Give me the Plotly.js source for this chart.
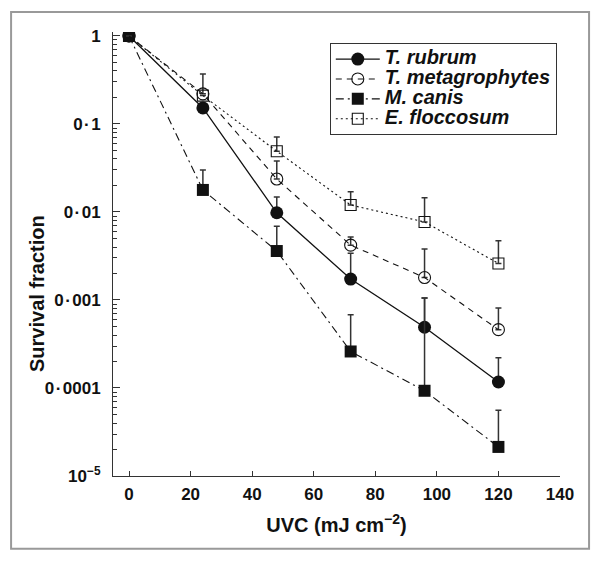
<!DOCTYPE html>
<html>
<head>
<meta charset="utf-8">
<script src="https://cdn.plot.ly/plotly-3.0.1.min.js"></script>
<style>
html,body{margin:0;padding:0;background:#fff;}
#chart{width:600px;height:561px;}
.legendtext{font-size:20px !important;}
</style>
</head>
<body>
<div id="chart"></div>
<script>
// Data
const doses = [0, 24, 48, 72, 96, 120];

const rubrumY     = [1, 0.152, 0.0098, 0.00173, 0.00049, 0.000117];
const rubrumTop   = [null, null, 0.0148, 0.0034, 0.00105, 0.00022];

const metaY       = [1, 0.22, 0.0237, 0.0042, 0.0018, 0.00046];
const metaTop     = [null, 0.37, 0.038, 0.0052, 0.0038, 0.00081];

const canisY      = [1, 0.0178, 0.0036, 0.00026, 0.000093, 0.0000214];
const canisTop    = [null, 0.030, 0.0069, 0.00068, 0.00105, 0.000056];

const floccY      = [1, 0.21, 0.049, 0.012, 0.0077, 0.0026];
const floccTop    = [null, null, 0.071, 0.017, 0.0145, 0.0047];

const seriesNames = ["T. rubrum", "T. metagrophytes", "M. canis", "E. floccosum"];

const yTickVals = [1, 0.1, 0.01, 0.001, 0.0001, 0.00001];
const yTickText = ["1", "0\u200a·\u200a1", "0\u200a·\u200a01", "0\u200a·\u200a001", "0\u200a·\u200a0001", "10<sup>−5</sup>"];
const xTickVals = [0, 20, 40, 60, 80, 100, 120, 140];

function plusErr(y, top) {
  return y.map((v, i) => (top[i] == null ? 0 : top[i] - v));
}

const ink = "#111";
const errStyle = (y, top) => ({
  type: "data", symmetric: false,
  array: plusErr(y, top), arrayminus: y.map(() => 0),
  color: "#333", thickness: 1.5, width: 3
});

const traces = [
  {
    x: doses, y: rubrumY, name: seriesNames[0], type: "scatter", mode: "lines+markers",
    line: {color: ink, width: 1.3, dash: "solid"},
    marker: {symbol: "circle", size: 13, color: ink},
    error_y: errStyle(rubrumY, rubrumTop)
  },
  {
    x: doses, y: metaY, name: seriesNames[1], type: "scatter", mode: "lines+markers",
    line: {color: ink, width: 1.1, dash: "6px,5px"},
    marker: {symbol: "circle-open", size: 12, color: ink, line: {color: ink, width: 1.1}},
    error_y: errStyle(metaY, metaTop)
  },
  {
    x: doses, y: canisY, name: seriesNames[2], type: "scatter", mode: "lines+markers",
    line: {color: ink, width: 1.1, dash: "8px,4px,2px,4px"},
    marker: {symbol: "square", size: 12, color: ink},
    error_y: errStyle(canisY, canisTop)
  },
  {
    x: doses, y: floccY, name: seriesNames[3], type: "scatter", mode: "lines+markers",
    line: {color: ink, width: 1.1, dash: "2px,3px"},
    marker: {symbol: "square-open", size: 11, color: ink, line: {color: ink, width: 1.1}},
    error_y: errStyle(floccY, floccTop)
  }
];

const minorVals = [];
for (let e = -5; e < 0; e++) {
  for (let m = 2; m <= 9; m++) minorVals.push(m * Math.pow(10, e));
}

const font = {family: "Liberation Sans, Arial, Helvetica, sans-serif", color: ink};

const layout = {
  width: 600, height: 561,
  margin: {l: 113, r: 40, t: 32, b: 85},
  paper_bgcolor: "#fff", plot_bgcolor: "#fff",
  font: font,
  showlegend: true,
  legend: {
    x: 0.485, y: 0.975, xanchor: "left", yanchor: "top",
    bgcolor: "#fff", bordercolor: "#333", borderwidth: 1,
    itemwidth: 44,
    font: {family: font.family, size: 13, color: ink, weight: "bold", style: "italic"},
    tracegroupgap: 0
  },
  xaxis: {
    range: [-5.2, 140],
    tickvals: xTickVals,
    ticks: "inside", ticklen: 5, tickwidth: 1, tickcolor: "#333",
    ticklabelstandoff: 3,
    showline: true, linecolor: "#333", linewidth: 1,
    showgrid: false, zeroline: false,
    tickfont: {family: font.family, size: 17, color: ink, weight: "bold"},
    title: {text: "UVC (mJ cm<sup>−2</sup>)", font: {family: font.family, size: 20, color: ink, weight: "bold"}, standoff: 14}
  },
  yaxis: {
    type: "log",
    range: [-5, 0.045],
    tickvals: yTickVals, ticktext: yTickText,
    ticks: "inside", ticklen: 7, tickwidth: 1, tickcolor: "#333",
    ticklabelstandoff: 8,
    minor: {tickvals: minorVals, ticks: "inside", ticklen: 4, tickwidth: 1, tickcolor: "#333", showgrid: false},
    showline: true, linecolor: "#333", linewidth: 1,
    showgrid: false, zeroline: false,
    tickfont: {family: font.family, size: 17, color: ink, weight: "bold"}
  },
  annotations: [{
    text: "Survival fraction", textangle: -90,
    xref: "paper", yref: "paper", x: -0.17, y: 0.41,
    xanchor: "center", yanchor: "middle", showarrow: false,
    font: {family: font.family, size: 20, color: ink, weight: "bold"}
  }],
  shapes: [{
    type: "rect", xref: "paper", yref: "paper", layer: "below",
    x0: -0.228, x1: 1.065, y0: -0.164, y1: 1.045,
    line: {color: "#999", width: 2}, fillcolor: "rgba(0,0,0,0)"
  }]
};

Plotly.newPlot("chart", traces, layout, {displayModeBar: false, staticPlot: true});
</script>
</body>
</html>
